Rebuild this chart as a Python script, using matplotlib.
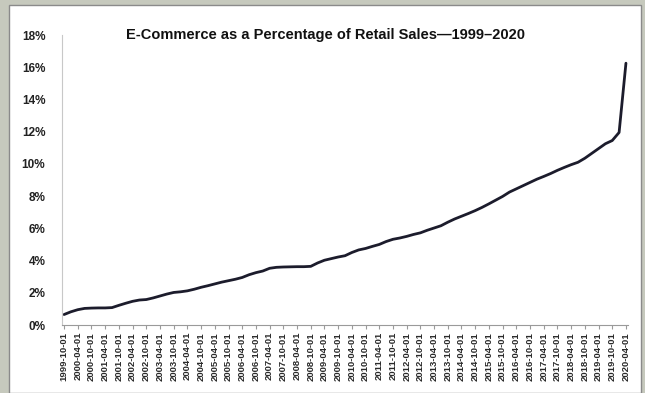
import matplotlib.pyplot as plt
from matplotlib.patches import Rectangle
from matplotlib.ticker import FuncFormatter

# quarterly share of retail sales (%), 1999-Q4 .. 2020-Q2
quarters = []
for yr in range(1999, 2021):
    for mo in ("01", "04", "07", "10"):
        d = f"{yr}-{mo}-01"
        if "1999-10-01" <= d <= "2020-04-01":
            quarters.append(d)

share = [0.65, 0.82, 0.95, 1.03, 1.05, 1.06, 1.06, 1.08, 1.22, 1.35,
         1.47, 1.55, 1.58, 1.68, 1.80, 1.92, 2.02, 2.06, 2.12, 2.22,
         2.34, 2.44, 2.55, 2.66, 2.75, 2.84, 2.95, 3.12, 3.25, 3.35,
         3.52, 3.58, 3.60, 3.61, 3.62, 3.62, 3.64, 3.85, 4.02, 4.12,
         4.22, 4.30, 4.50, 4.66, 4.75, 4.88, 5.00, 5.18, 5.32, 5.40,
         5.50, 5.62, 5.72, 5.88, 6.02, 6.16, 6.38, 6.58, 6.75, 6.92,
         7.10, 7.30, 7.52, 7.75, 7.98, 8.25, 8.45, 8.65, 8.85, 9.05,
         9.22, 9.40, 9.60, 9.78, 9.95, 10.10, 10.35, 10.65, 10.95, 11.25,
         11.45, 11.95, 16.25]

title = "E-Commerce as a Percentage of Retail Sales\u20141999\u20132020"

plt.rcParams['font.family'] = ['Liberation Sans', 'DejaVu Sans']

fig = plt.figure(figsize=(6.45, 3.93), dpi=100)
fig.patch.set_facecolor('#c6c9bd')
# white chart panel on the textured page
panel = Rectangle((9 / 645, 0), 632 / 645, 1 - 5 / 393,
                  transform=fig.transFigure, facecolor='white',
                  edgecolor='#8a8a8a', linewidth=1.0, zorder=-1)
fig.add_artist(panel)

ax = fig.add_axes([62 / 645, 1 - 325 / 393, 566 / 645, 290 / 393])
ax.set_zorder(2)
ax.set_facecolor('white')
x = list(range(len(quarters)))
ax.plot(x, share, color='#1c1c2c', lw=2.0, solid_capstyle='round')

ax.set_ylim(0, 18)
ax.set_yticks(range(0, 19, 2))
ax.yaxis.set_major_formatter(FuncFormatter(lambda v, p: f"{int(v)}%"))
ax.set_xlim(-0.3, len(quarters) - 0.7)
ax.set_xticks(x[::2])
ax.set_xticklabels(quarters[::2], rotation=90, fontsize=6.8,
                   fontweight='bold', color='#2a2a2a')
for lab in ax.get_yticklabels():
    lab.set_fontsize(8.5)
    lab.set_fontweight('bold')
    lab.set_color('#222')

for s in ('top', 'right'):
    ax.spines[s].set_visible(False)
ax.spines['left'].set_color('#c8c8c8')
ax.spines['bottom'].set_color('#9a9a9a')
ax.tick_params(axis='y', length=0, pad=12)
ax.tick_params(axis='x', length=3, color='#9a9a9a', pad=2)

fig.text(325 / 645, 1 - 35 / 393, title, ha='center', va='center',
         fontsize=10.5, fontweight='bold', color='#111', zorder=3)

fig.savefig('out.png', dpi=100, facecolor=fig.get_facecolor())
